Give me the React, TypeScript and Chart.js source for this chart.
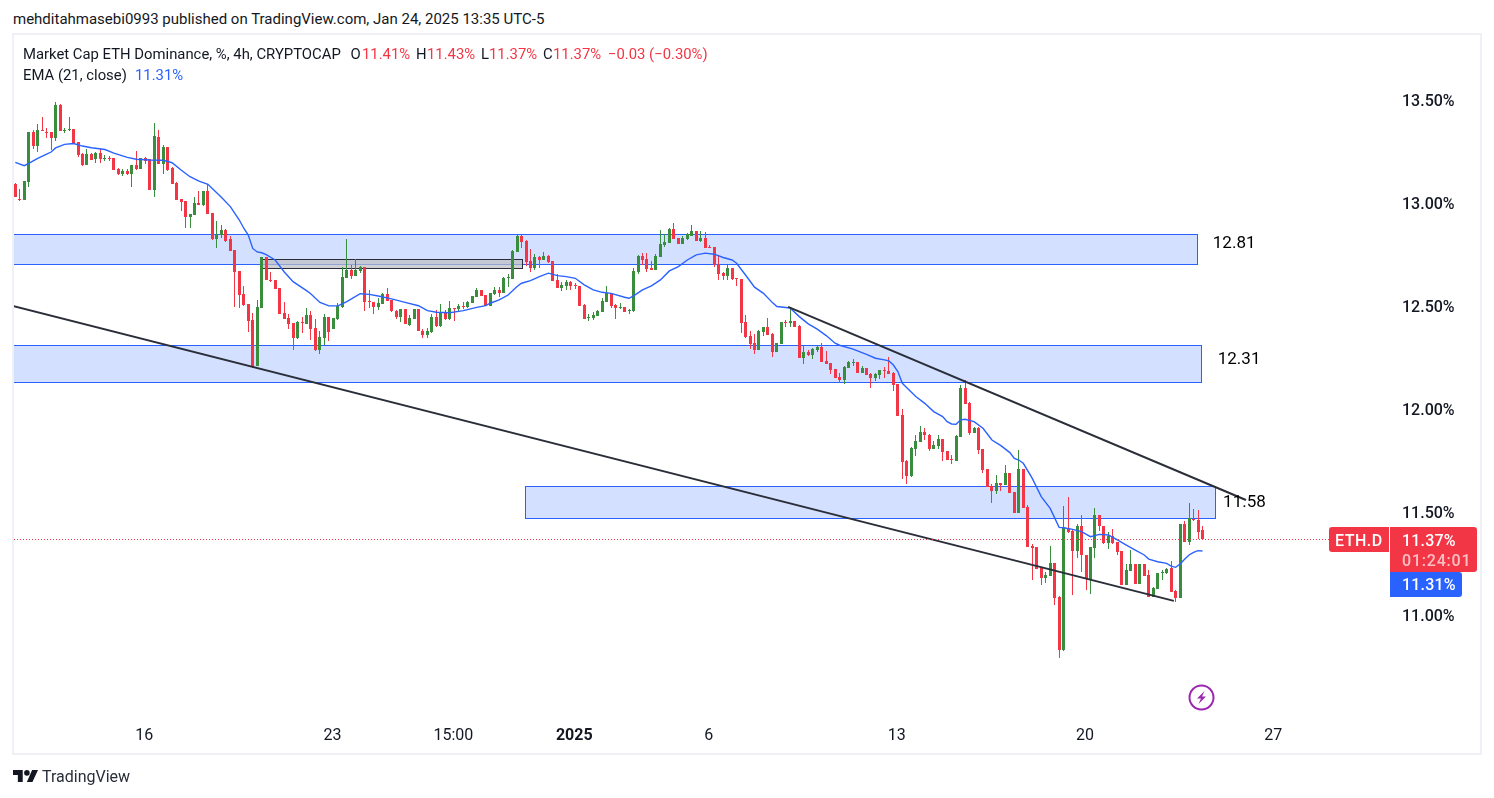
import React, { useEffect, useRef } from "react";
import { Chart, registerables } from "chart.js";

Chart.register(...registerables);

const opens = [
13.093,13.019,13.016,13.102,13.344,13.278,13.352,13.346,13.344,13.317,
13.477,13.352,13.352,13.357,13.294,13.237,13.184,13.237,13.213,13.242,
13.215,13.218,13.218,13.166,13.142,13.155,13.142,13.184,13.165,13.218,
13.212,13.063,13.322,13.191,13.271,13.171,13.098,13.017,13.009,12.932,
12.941,12.998,12.988,13.058,12.949,12.825,12.843,12.869,12.825,12.771,
12.669,12.558,12.509,12.432,12.208,12.491,12.736,12.626,12.626,12.585,
12.464,12.440,12.415,12.343,12.422,12.412,12.456,12.394,12.286,12.346,
12.445,12.388,12.436,12.493,12.635,12.674,12.645,12.671,12.687,12.522,
12.519,12.493,12.509,12.558,12.529,12.477,12.446,12.485,12.406,12.438,
12.485,12.380,12.359,12.372,12.446,12.402,12.466,12.436,12.488,12.485,
12.498,12.493,12.514,12.545,12.577,12.553,12.501,12.558,12.577,12.565,
12.634,12.631,12.764,12.840,12.816,12.718,12.684,12.738,12.723,12.743,
12.718,12.626,12.587,12.597,12.617,12.600,12.597,12.505,12.443,12.440,
12.451,12.471,12.519,12.561,12.505,12.490,12.495,12.477,12.476,12.665,
12.743,12.728,12.683,12.675,12.738,12.796,12.806,12.874,12.830,12.801,
12.825,12.840,12.864,12.816,12.830,12.786,12.786,12.704,12.660,12.646,
12.684,12.634,12.631,12.422,12.354,12.320,12.286,12.374,12.398,12.364,
12.277,12.315,12.422,12.417,12.427,12.403,12.247,12.278,12.262,12.286,
12.301,12.233,12.223,12.194,12.155,12.141,12.199,12.223,12.228,12.175,
12.199,12.170,12.150,12.165,12.191,12.184,12.175,12.121,11.971,11.748,
11.675,11.806,11.840,11.888,11.874,11.806,11.820,11.854,11.796,11.757,
11.748,11.864,12.102,12.029,11.883,11.908,11.805,11.708,11.626,11.601,
11.640,11.631,11.689,11.597,11.495,11.708,11.524,11.334,11.330,11.228,
11.179,11.189,11.252,11.087,10.830,11.420,11.407,11.310,11.432,11.291,
11.174,11.325,11.485,11.432,11.347,11.385,11.354,11.310,11.145,11.213,
11.247,11.150,11.247,11.194,11.087,11.126,11.202,11.202,11.228,11.116,
11.082,11.441,11.354,11.466,11.461,11.41,
];

const highs = [
13.098,13.066,13.106,13.344,13.354,13.383,13.415,13.362,13.346,13.488,
13.480,13.362,13.415,13.357,13.294,13.240,13.262,13.240,13.246,13.260,
13.234,13.228,13.220,13.168,13.163,13.166,13.186,13.252,13.218,13.221,
13.215,13.388,13.354,13.281,13.273,13.173,13.100,13.019,13.011,12.947,
13.030,13.056,13.058,13.085,12.951,12.912,12.893,12.871,12.839,12.773,
12.671,12.597,12.511,12.464,12.529,12.738,12.738,12.663,12.628,12.587,
12.519,12.459,12.417,12.427,12.445,12.488,12.477,12.436,12.378,12.459,
12.447,12.443,12.512,12.690,12.823,12.697,12.726,12.694,12.689,12.576,
12.521,12.540,12.564,12.587,12.531,12.479,12.487,12.487,12.456,12.487,
12.487,12.388,12.391,12.461,12.480,12.508,12.480,12.524,12.490,12.509,
12.521,12.525,12.550,12.585,12.579,12.555,12.565,12.592,12.593,12.638,
12.654,12.769,12.842,12.842,12.818,12.777,12.751,12.740,12.762,12.745,
12.720,12.655,12.617,12.626,12.621,12.610,12.599,12.507,12.461,12.469,
12.481,12.537,12.597,12.563,12.507,12.515,12.497,12.483,12.684,12.745,
12.756,12.757,12.718,12.752,12.869,12.850,12.876,12.903,12.832,12.837,
12.853,12.893,12.866,12.862,12.859,12.796,12.788,12.748,12.667,12.699,
12.686,12.636,12.633,12.456,12.379,12.364,12.381,12.400,12.442,12.369,
12.322,12.424,12.432,12.490,12.429,12.405,12.306,12.286,12.296,12.306,
12.320,12.281,12.225,12.196,12.173,12.209,12.233,12.243,12.230,12.209,
12.201,12.175,12.172,12.191,12.204,12.252,12.177,12.123,12.000,11.750,
11.813,11.874,11.917,11.908,11.876,11.845,11.874,11.856,11.798,11.777,
11.871,12.116,12.141,12.034,11.910,11.910,11.807,11.710,11.635,11.679,
11.642,11.728,11.691,11.599,11.800,11.710,11.533,11.344,11.332,11.230,
11.208,11.334,11.254,11.092,11.529,11.572,11.412,11.441,11.485,11.293,
11.332,11.519,11.487,11.434,11.402,11.417,11.356,11.312,11.247,11.315,
11.249,11.249,11.249,11.218,11.136,11.205,11.218,11.228,11.262,11.121,
11.443,11.456,11.543,11.514,11.509,11.43,
];

const lows = [
13.030,13.009,13.014,13.079,13.260,13.249,13.349,13.314,13.257,13.302,
13.351,13.341,13.349,13.286,13.225,13.180,13.182,13.208,13.194,13.194,
13.204,13.202,13.158,13.137,13.132,13.137,13.079,13.160,13.163,13.187,
13.063,13.030,13.191,13.140,13.155,13.090,13.012,12.961,12.880,12.880,
12.939,12.990,12.986,12.946,12.820,12.782,12.828,12.812,12.766,12.496,
12.491,12.501,12.375,12.197,12.206,12.489,12.624,12.614,12.580,12.460,
12.436,12.386,12.286,12.338,12.367,12.410,12.335,12.283,12.267,12.309,
12.331,12.386,12.434,12.490,12.635,12.631,12.643,12.661,12.475,12.491,
12.461,12.480,12.507,12.523,12.470,12.436,12.422,12.410,12.402,12.436,
12.378,12.344,12.346,12.370,12.400,12.400,12.434,12.434,12.427,12.472,
12.487,12.491,12.512,12.543,12.546,12.499,12.499,12.551,12.545,12.563,
12.591,12.629,12.762,12.783,12.696,12.665,12.672,12.683,12.721,12.707,
12.621,12.585,12.573,12.578,12.578,12.583,12.498,12.435,12.427,12.432,
12.449,12.469,12.517,12.490,12.437,12.485,12.469,12.461,12.471,12.655,
12.699,12.665,12.676,12.673,12.736,12.786,12.804,12.823,12.799,12.799,
12.820,12.838,12.814,12.811,12.780,12.780,12.689,12.626,12.626,12.626,
12.626,12.597,12.369,12.345,12.291,12.267,12.284,12.354,12.357,12.252,
12.275,12.313,12.398,12.398,12.396,12.245,12.218,12.257,12.243,12.277,
12.226,12.216,12.170,12.148,12.126,12.121,12.197,12.209,12.173,12.173,
12.163,12.102,12.136,12.146,12.150,12.168,12.087,11.964,11.660,11.636,
11.670,11.772,11.838,11.849,11.796,11.804,11.806,11.748,11.750,11.733,
11.746,11.862,12.022,11.874,11.881,11.781,11.687,11.619,11.543,11.587,
11.601,11.629,11.590,11.493,11.493,11.517,11.328,11.169,11.221,11.145,
11.155,11.187,11.048,10.791,10.825,11.400,11.097,11.276,11.208,11.121,
11.101,11.276,11.407,11.345,11.320,11.345,11.291,11.143,11.143,11.211,
11.148,11.148,11.187,11.085,11.085,11.124,11.169,11.200,11.109,11.063,
11.080,11.352,11.339,11.456,11.368,11.366,
];

const closes = [
13.030,13.013,13.106,13.344,13.276,13.354,13.349,13.341,13.317,13.475,
13.351,13.356,13.357,13.286,13.233,13.182,13.237,13.208,13.244,13.213,
13.218,13.215,13.160,13.139,13.155,13.142,13.184,13.165,13.218,13.205,
13.063,13.325,13.191,13.270,13.160,13.093,13.014,13.006,12.930,12.945,
13.000,12.992,13.056,12.948,12.823,12.846,12.869,12.815,12.768,12.666,
12.553,12.506,12.427,12.205,12.493,12.736,12.626,12.623,12.582,12.462,
12.438,12.412,12.346,12.422,12.420,12.454,12.388,12.286,12.349,12.446,
12.375,12.441,12.500,12.639,12.674,12.645,12.674,12.687,12.521,12.519,
12.493,12.514,12.558,12.525,12.477,12.446,12.485,12.412,12.443,12.485,
12.380,12.359,12.378,12.446,12.402,12.466,12.436,12.488,12.485,12.500,
12.493,12.519,12.548,12.577,12.548,12.501,12.563,12.577,12.564,12.636,
12.638,12.767,12.840,12.811,12.715,12.684,12.738,12.723,12.743,12.714,
12.623,12.587,12.602,12.617,12.599,12.597,12.500,12.437,12.447,12.456,
12.476,12.524,12.563,12.498,12.490,12.494,12.471,12.481,12.670,12.743,
12.723,12.680,12.676,12.743,12.801,12.811,12.874,12.825,12.801,12.830,
12.848,12.864,12.816,12.830,12.782,12.782,12.699,12.655,12.647,12.684,
12.631,12.633,12.418,12.350,12.316,12.286,12.379,12.398,12.359,12.277,
12.320,12.422,12.419,12.427,12.398,12.247,12.277,12.262,12.291,12.301,
12.228,12.218,12.189,12.150,12.141,12.204,12.228,12.226,12.175,12.199,
12.165,12.150,12.170,12.189,12.188,12.170,12.116,11.966,11.743,11.675,
11.811,11.845,11.888,11.872,11.806,11.825,11.854,11.791,11.752,11.754,
11.869,12.102,12.024,11.883,11.908,11.801,11.703,11.621,11.601,11.640,
11.631,11.689,11.592,11.495,11.708,11.519,11.330,11.326,11.223,11.179,
11.194,11.252,11.082,10.830,11.427,11.402,11.310,11.432,11.291,11.174,
11.330,11.485,11.432,11.347,11.383,11.347,11.305,11.145,11.218,11.247,
11.150,11.247,11.189,11.087,11.131,11.203,11.208,11.223,11.111,11.082,
11.441,11.354,11.470,11.459,11.402,11.37,
];

const emaBars = [
0,2,3,5,7,8,9,11,13,15,17,20,22,25,27,30,33,35,37,39,41,43,46,48,50,
51,52,53,54,55,56,58,60,62,65,66,68,70,72,74,77,79,81,84,87,90,92,94,97,100,103,105,
106,108,110,112,113,115,117,119,121,123,125,127,129,131,133,136,137,138,140,142,144,146,148,150,152,154,156,158,160,161,163,165,167,169,170,
172,173,175,177,179,181,183,184,187,190,192,194,195,196,197,198,199,201,203,205,207,208,209,210,211,212,214,216,218,220,222,223,224,
225,227,229,231,233,234,236,238,240,242,244,246,248,250,252,253,255,257,258,259,260,261,262,263,264,265,
];
const emaValues = [
13.197,13.181,13.192,13.216,13.237,13.247,13.267,13.284,13.288,13.276,13.268,13.259,13.242,13.221,13.212,13.208,13.207,13.195,13.160,13.127,13.106,13.090,13.027,12.982,12.917,
12.877,12.844,12.779,12.762,12.758,12.749,12.723,12.666,12.618,12.574,12.558,12.517,12.500,12.500,12.521,12.559,12.556,12.548,12.534,12.517,12.501,12.477,12.469,12.467,12.477,12.493,12.501,
12.513,12.529,12.553,12.594,12.610,12.623,12.642,12.659,12.647,12.642,12.634,12.602,12.578,12.566,12.561,12.542,12.537,12.549,12.578,12.597,12.626,12.670,12.691,12.723,12.748,12.756,12.751,12.735,12.723,12.707,12.650,12.591,12.561,12.516,12.497,
12.492,12.489,12.448,12.413,12.387,12.356,12.319,12.309,12.290,12.265,12.246,12.238,12.233,12.213,12.181,12.124,12.103,12.060,12.027,11.987,11.963,11.938,11.927,11.925,11.947,11.950,11.938,11.906,11.849,11.822,11.788,11.760,11.752,
11.736,11.663,11.574,11.517,11.425,11.423,11.415,11.404,11.380,11.391,11.388,11.364,11.339,11.315,11.291,11.271,11.258,11.250,11.237,11.231,11.247,11.270,11.291,11.304,11.312,11.31,
];

const xTickBars = [29, 71, 98, 125, 155, 197, 239, 281];
const xTickLabels = ["16", "23", "15:00", "2025", "6", "13", "20", "27"];
const yTickValues = [11, 11.5, 12, 12.5, 13, 13.5];

const zoneStart = [-0.6, -0.6, 113.8];
const zoneEnd = [263.8, 264.7, 267.9];
const zoneTop = [12.849, 12.31, 11.626];
const zoneBottom = [12.703, 12.131, 11.47];
const zoneLabels = ["12.81", "12.31", "11.58"];
const zoneLabelBar = [267.3, 268.4, 269.6];
const zoneLabelValue = [12.8, 12.237, 11.543];

const pocketStart = 55;
const pocketEnd = 113;
const pocketTop = 12.726;
const pocketBottom = 12.683;

const lowerTrendBars = [-0.6, 258.6];
const lowerTrendValues = [12.5, 11.068];
const upperTrendBars = [172.5, 274.7];
const upperTrendValues = [12.495, 11.558];

const lastPrice = 11.37;
const lastEma = 11.31;
const symbol = "ETH.D";
const countdown = "01:24:01";

const UP = "#388E3C";
const DOWN = "#F23645";
const BLUE = "#2962FF";
const INK = "#131722";
const FONT = "Roboto, sans-serif";
const BAR_PX = 4.48;

const snapBars = {
  id: "snapBars",
  afterDatasetsUpdate(chart: any) {
    chart.data.datasets.forEach((ds: any, n: number) => {
      if (ds.type === "line") return;
      chart.getDatasetMeta(n).data.forEach((el: any) => {
        el.x = Math.floor(el.x) + 0.5;
        let a = Math.round(el.y);
        let b = Math.round(el.base);
        if (a === b) b = a + 1;
        el.y = a;
        el.base = b;
      });
    });
  },
};

const zonesPlugin = {
  id: "zones",
  beforeDatasetsDraw(chart: any) {
    const { ctx, scales } = chart;
    const { x, y } = scales;
    ctx.save();
    ctx.beginPath();
    ctx.rect(14, 35, 1466, 719);
    ctx.clip();
    zoneStart.forEach((_, i) => {
      const l = Math.round(x.getPixelForValue(zoneStart[i])) + 0.5;
      const r = Math.round(x.getPixelForValue(zoneEnd[i])) + 0.5;
      const t = Math.round(y.getPixelForValue(zoneTop[i])) + 0.5;
      const b = Math.round(y.getPixelForValue(zoneBottom[i])) + 0.5;
      ctx.fillStyle = "rgba(41,98,255,0.2)";
      ctx.fillRect(l, t, r - l, b - t);
      ctx.strokeStyle = BLUE;
      ctx.lineWidth = 1;
      ctx.strokeRect(l, t, r - l, b - t);
    });
    const l = Math.round(x.getPixelForValue(pocketStart)) + 0.5;
    const r = Math.round(x.getPixelForValue(pocketEnd)) + 0.5;
    const t = Math.round(y.getPixelForValue(pocketTop)) + 0.5;
    const b = Math.round(y.getPixelForValue(pocketBottom)) + 0.5;
    ctx.fillStyle = "rgba(190,190,195,0.7)";
    ctx.fillRect(l, t, r - l, b - t);
    ctx.strokeStyle = "#2a2e39";
    ctx.strokeRect(l, t, r - l, b - t);
    ctx.restore();
  },
  afterDatasetsDraw(chart: any) {
    const { ctx, scales } = chart;
    const { x, y } = scales;
    ctx.save();
    const py = Math.round(y.getPixelForValue(lastPrice)) + 0.5;
    ctx.strokeStyle = DOWN;
    ctx.lineWidth = 1;
    ctx.setLineDash([1, 2]);
    ctx.beginPath();
    ctx.moveTo(14, py);
    ctx.lineTo(1329, py);
    ctx.stroke();
    ctx.setLineDash([]);

    ctx.fillStyle = "#000000";
    ctx.font = `17px ${FONT}`;
    ctx.textAlign = "left";
    ctx.textBaseline = "middle";
    zoneLabels.forEach((t, i) => {
      ctx.fillText(t, x.getPixelForValue(zoneLabelBar[i]), y.getPixelForValue(zoneLabelValue[i]));
    });

    const boxTop = py - 12.5;
    ctx.fillStyle = DOWN;
    ctx.beginPath();
    ctx.roundRect(1329, boxTop, 60, 25, [3, 0, 0, 3]);
    ctx.fill();
    ctx.beginPath();
    ctx.roundRect(1390, boxTop, 87, 45, [0, 3, 3, 0]);
    ctx.fill();
    const emaY = boxTop + 45;
    ctx.fillStyle = BLUE;
    ctx.beginPath();
    ctx.roundRect(1390, emaY, 72, 25, [0, 3, 3, 0]);
    ctx.fill();

    ctx.font = `500 16px ${FONT}`;
    ctx.fillStyle = "#ffffff";
    (ctx as any).letterSpacing = "0.5px";
    ctx.fillText(symbol, 1335, py + 2);
    (ctx as any).letterSpacing = "0.2px";
    ctx.fillText(lastPrice.toFixed(2) + "%", 1402, py + 2);
    ctx.fillStyle = "#fcc0c6";
    (ctx as any).letterSpacing = "0.8px";
    ctx.fillText(countdown, 1402, py + 22);
    ctx.fillStyle = "#ffffff";
    (ctx as any).letterSpacing = "0.2px";
    ctx.fillText(lastEma.toFixed(2) + "%", 1402, emaY + 14);
    (ctx as any).letterSpacing = "0px";
    ctx.restore();
  },
};

const legendSegments: [number, string, string][] = [
  [23, "Market Cap ETH Dominance, %, 4h, CRYPTOCAP", INK],
  [350.5, "O", INK],
  [362, "11.41%", DOWN],
  [416, "H", INK],
  [427, "11.43%", DOWN],
  [481, "L", INK],
  [489, "11.37%", DOWN],
  [543, "C", INK],
  [553, "11.37%", DOWN],
  [608, "−0.03 (−0.30%)", DOWN],
];

export default function App() {
  const ref = useRef<HTMLCanvasElement>(null);

  useEffect(() => {
    document.body.style.background = "#fff";
    const bars = opens.map((_, i) => i);
    const colors = bars.map((i) => (closes[i] >= opens[i] ? UP : DOWN));
    const minBar = (14 - 15.3) / BAR_PX;
    const maxBar = minBar + (1395 - 14) / BAR_PX;
    const chart = new Chart(ref.current as HTMLCanvasElement, {
      type: "bar",
      data: {
        datasets: [
          {
            type: "bar",
            label: "Wick",
            data: bars.map((i) => ({ x: i, y: [lows[i], highs[i]] })),
            backgroundColor: colors,
            barThickness: 1,
            grouped: false,
            inflateAmount: 0,
            order: 5,
          },
          {
            type: "bar",
            label: "Body",
            data: bars.map((i) => ({ x: i, y: [opens[i], closes[i]] })),
            backgroundColor: colors,
            barThickness: 3,
            grouped: false,
            inflateAmount: 0,
            order: 4,
          },
          {
            type: "line",
            label: "EMA",
            data: emaBars.map((b, i) => ({ x: b, y: emaValues[i] })),
            borderColor: BLUE,
            borderWidth: 1.4,
            pointRadius: 0,
            tension: 0,
            order: 3,
          },
          {
            type: "line",
            label: "Lower trend",
            data: lowerTrendBars.map((b, i) => ({ x: b, y: lowerTrendValues[i] })),
            borderColor: "#2a2e39",
            borderWidth: 2,
            pointRadius: 0,
            order: 2,
          },
          {
            type: "line",
            label: "Upper trend",
            data: upperTrendBars.map((b, i) => ({ x: b, y: upperTrendValues[i] })),
            borderColor: "#2a2e39",
            borderWidth: 2,
            pointRadius: 0,
            order: 1,
          },
        ],
      } as any,
      options: {
        responsive: false,
        animation: false,
        events: [],
        layout: { padding: { left: 14, top: 35, right: 14, bottom: 44 } },
        plugins: { legend: { display: false }, tooltip: { enabled: false }, title: { display: false } },
        scales: {
          x: {
            type: "linear",
            offset: false,
            min: minBar,
            max: maxBar,
            grid: { display: false, drawTicks: false },
            border: { display: false },
            afterFit(s: any) {
              s.height = 36;
            },
            afterBuildTicks(s: any) {
              s.ticks = xTickBars.map((value) => ({ value }));
            },
            ticks: {
              autoSkip: false,
              maxRotation: 0,
              padding: 8,
              labelOffset: -1,
              color: INK,
              font: (c: any) => ({
                family: FONT,
                size: 16,
                weight: xTickLabels[c.index] === "2025" ? "bold" : "normal",
              }),
              callback: (v: any) => xTickLabels[xTickBars.indexOf(v)],
            },
          },
          y: {
            type: "linear",
            position: "right",
            min: 13.985 - 718 / 206,
            max: 13.985 - 35 / 206,
            grid: { display: false, drawTicks: false },
            border: { display: false },
            afterFit(s: any) {
              s.width = 85;
            },
            afterBuildTicks(s: any) {
              s.ticks = yTickValues.map((value) => ({ value }));
            },
            ticks: {
              padding: 7,
              labelOffset: 2,
              color: INK,
              font: { family: FONT, size: 16, weight: "500" },
              callback: (v: any) => Number(v).toFixed(2) + "%",
            },
          },
        } as any,
      },
      plugins: [snapBars, zonesPlugin],
    } as any);
    return () => chart.destroy();
  }, []);

  const textStyle = (left: number, top: number, color: string, size: number): React.CSSProperties => ({
    position: "absolute",
    left,
    top,
    color,
    fontFamily: FONT,
    fontSize: size,
    lineHeight: "20px",
    whiteSpace: "nowrap",
  });

  return (
    <div style={{ position: "absolute", left: 0, top: 0, width: 1494, height: 798, background: "#fff", overflow: "hidden" }}>
      <div style={textStyle(13, 9, INK, 15)}>
        mehditahmasebi0993 published on TradingView.com, Jan 24, 2025 13:35 UTC-5
      </div>
      <div
        style={{
          position: "absolute",
          left: 12,
          top: 33,
          width: 1470,
          height: 722,
          boxSizing: "border-box",
          border: "2px solid #f0f1f7",
        }}
      />
      <canvas ref={ref} width={1494} height={798} style={{ position: "absolute", left: 0, top: 0, display: "block" }} />
      {legendSegments.map(([left, text, color]) => (
        <div key={left} style={textStyle(left, 44, color, 14.85)}>
          {text}
        </div>
      ))}
      <div style={textStyle(23, 65, INK, 14.85)}>EMA (21, close)</div>
      <div style={textStyle(135, 65, BLUE, 14.85)}>11.31%</div>
      <svg style={{ position: "absolute", left: 1188, top: 684 }} width="27" height="27" viewBox="0 0 27 27">
        <circle cx="13.5" cy="13.5" r="12" fill="none" stroke="#9C27B0" strokeWidth="2" />
        <path d="M16.5 7 L9 14.5 H13 L10.5 20 L18 12.5 H14 Z" fill="#9C27B0" />
      </svg>
      <svg style={{ position: "absolute", left: 13, top: 770 }} width="25" height="12" viewBox="0 0 36 17">
        <path d="M14 17H7V7H0V0h14v17zM28 17h-8l7.5-17H36L28 17z" fill={INK} />
        <circle cx="20" cy="4" r="4" fill={INK} />
      </svg>
      <div style={textStyle(42, 767, "#2a2e39", 16)}>TradingView</div>
    </div>
  );
}
